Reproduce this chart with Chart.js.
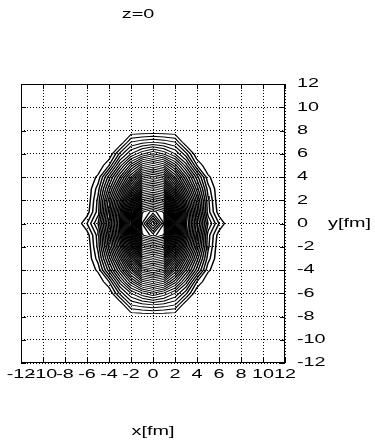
<!DOCTYPE html>
<html>
<head>
<meta charset="utf-8">
<title>z=0</title>
<script src="https://cdn.jsdelivr.net/npm/chart.js@4.4.1/dist/chart.umd.min.js"></script>
<style>
  html, body { margin: 0; padding: 0; background: #fff; }
  canvas { display: block; }
</style>
</head>
<body>
<canvas id="contour" width="375" height="445"></canvas>
<script>
// Density slice at z=0, one quadrant (x >= 0, y >= 0) on a 1 fm grid.
// The other three quadrants are mirror images.
const gridX = [0, 1, 2, 3, 4, 5, 6, 7];        // fm
const gridY = [0, 1, 2, 3, 4, 5, 6, 7, 8, 9];  // fm
const quadrant = [
  [46, 41, 29, 18.5, 11.5, 5, 2, 0],        // y = 0
  [41.5, 39.8, 28, 18, 10.5, 3.5, 0.4, 0],  // y = 1
  [34.5, 33.3, 24, 16, 9.5, 3.3, 0, 0],     // y = 2
  [28, 26.8, 19.5, 13, 7.5, 2.5, 0, 0],     // y = 3
  [21.5, 20.3, 15, 10, 5.5, 1.25, 0, 0],    // y = 4
  [15, 13.8, 10.5, 6.5, 2, 0, 0, 0],        // y = 5
  [9, 7.8, 6, 3.3, 0, 0, 0, 0],             // y = 6
  [4, 3.6, 3, 0, 0, 0, 0, 0],               // y = 7
  [0, 0, 0, 0, 0, 0, 0, 0],                 // y = 8
  [0, 0, 0, 0, 0, 0, 0, 0]                  // y = 9
];
const contourLevels = [1, 2, 3, 4, 5, 6, 7, 8, 9, 10, 11, 12, 13, 14, 15, 16,
  17, 18, 19, 20, 21, 22, 23, 24, 25, 26, 27, 28, 29, 30, 31, 32, 33, 34, 35,
  36, 37, 38, 39, 40, 41, 42, 43, 44, 45];
const axisTicks = [-12, -10, -8, -6, -4, -2, 0, 2, 4, 6, 8, 10, 12];

const titleText = 'z=0';
const xTitle = 'x[fm]';
const yTitle = 'y[fm]';

const FONT = '12px "Liberation Sans", Arial, sans-serif';
const TEXT_STRETCH = 1.65; // labels are drawn wide
const PEN_STRETCH = 1.65;  // contour pen is wider across than tall

// Full grid from the quadrant by mirroring
const xs = gridX.slice(1).reverse().map(v => -v).concat(gridX);
const ys = gridY.slice(1).reverse().map(v => -v).concat(gridY);
function valueAt(i, j) {
  const qi = gridX.indexOf(Math.abs(xs[i]));
  const qj = gridY.indexOf(Math.abs(ys[j]));
  return quadrant[qj][qi];
}
const field = ys.map((_, j) => xs.map((_, i) => valueAt(i, j)));

// Marching squares: segments keyed by the grid edges they end on
function contourSegments(level) {
  const segs = [];
  const edgePoint = (key) => {
    const [t, i, j] = key.split(',');
    const a = +i, b = +j;
    if (t === 'h') {
      const v0 = field[b][a], v1 = field[b][a + 1];
      const f = (level - v0) / (v1 - v0);
      return { x: xs[a] + f * (xs[a + 1] - xs[a]), y: ys[b] };
    }
    const v0 = field[b][a], v1 = field[b + 1][a];
    const f = (level - v0) / (v1 - v0);
    return { x: xs[a], y: ys[b] + f * (ys[b + 1] - ys[b]) };
  };
  for (let j = 0; j < ys.length - 1; j++) {
    for (let i = 0; i < xs.length - 1; i++) {
      const v00 = field[j][i], v10 = field[j][i + 1];
      const v11 = field[j + 1][i + 1], v01 = field[j + 1][i];
      const b0 = v00 > level, b1 = v10 > level, b2 = v11 > level, b3 = v01 > level;
      const bottom = 'h,' + i + ',' + j;
      const top = 'h,' + i + ',' + (j + 1);
      const left = 'v,' + i + ',' + j;
      const right = 'v,' + (i + 1) + ',' + j;
      const crossed = [];
      if (b0 !== b1) crossed.push(bottom);
      if (b1 !== b2) crossed.push(right);
      if (b2 !== b3) crossed.push(top);
      if (b3 !== b0) crossed.push(left);
      if (crossed.length === 2) {
        segs.push([crossed[0], crossed[1]]);
      } else if (crossed.length === 4) {
        const centreHigh = (v00 + v10 + v11 + v01) / 4 > level;
        if ((b0 && b2) === centreHigh) {
          segs.push([bottom, right], [top, left]);
        } else {
          segs.push([bottom, left], [right, top]);
        }
      }
    }
  }
  return { segs, edgePoint };
}

// Join segments into polylines, gaps between polylines as null points
function contourLine(level) {
  const { segs, edgePoint } = contourSegments(level);
  const byEdge = {};
  segs.forEach((s, k) => s.forEach(e => (byEdge[e] = byEdge[e] || []).push(k)));
  const used = new Array(segs.length).fill(false);
  const out = [];
  const walk = (startSeg, fromEdge) => {
    const path = [];
    let seg = startSeg, edge = fromEdge;
    while (seg !== undefined && !used[seg]) {
      used[seg] = true;
      const next = segs[seg][0] === edge ? segs[seg][1] : segs[seg][0];
      path.push(next);
      edge = next;
      seg = byEdge[edge].find(k => !used[k]);
    }
    return path;
  };
  for (let k = 0; k < segs.length; k++) {
    if (used[k]) continue;
    const [a, b] = segs[k];
    used[k] = true;
    const fwd = walk(byEdge[b].find(n => !used[n]), b);
    const back = walk(byEdge[a].find(n => !used[n]), a);
    const chain = back.reverse().concat([a, b], fwd);
    chain.forEach(e => out.push(edgePoint(e)));
    out.push({ x: 0, y: null });
  }
  return out;
}

const datasets = contourLevels.map(level => ({
  label: String(level),
  data: contourLine(level),
  showLine: true,
  borderColor: '#000',
  borderWidth: 0.9,
  pointRadius: 0,
  fill: false,
  tension: 0
}));

const canvas = document.getElementById('contour');
const ctx = canvas.getContext('2d');

// draw all text horizontally stretched around its anchor
const plainFillText = ctx.fillText;
ctx.fillText = function (text, x, y, maxWidth) {
  this.save();
  this.translate(x, y);
  this.scale(TEXT_STRETCH, 1);
  if (maxWidth === undefined) plainFillText.call(this, text, 0, 0);
  else plainFillText.call(this, text, 0, 0, maxWidth / TEXT_STRETCH);
  this.restore();
};

// while the contours are drawn, stroke with a pen that is wider than tall
let widePen = false;
const plainStroke = ctx.stroke;
ctx.stroke = function (path) {
  if (!widePen) return path ? plainStroke.call(this, path) : plainStroke.call(this);
  this.save();
  this.scale(PEN_STRETCH, 1);
  if (path) {
    const p = new Path2D();
    p.addPath(path, new DOMMatrix([1 / PEN_STRETCH, 0, 0, 1, 0, 0]));
    plainStroke.call(this, p);
  } else {
    plainStroke.call(this);
  }
  this.restore();
};

const penPlugin = {
  id: 'widePen',
  beforeDatasetsDraw() { widePen = true; },
  afterDatasetsDraw() { widePen = false; }
};

// Frame with inward ticks on all four sides, plus the text labels
const framePlugin = {
  id: 'frame',
  afterDraw(chart) {
    const { ctx, chartArea: a, scales } = chart;
    ctx.save();
    ctx.strokeStyle = '#000';
    ctx.lineWidth = 1;
    ctx.setLineDash([]);
    ctx.strokeRect(a.left + 0.5, a.top + 0.5, a.right - a.left - 1, a.bottom - a.top - 1);
    const len = 5;
    ctx.beginPath();
    axisTicks.forEach(v => {
      const px = Math.round(scales.x.getPixelForValue(v)) + 0.5;
      ctx.moveTo(px, a.top); ctx.lineTo(px, a.top + len);
      ctx.moveTo(px, a.bottom); ctx.lineTo(px, a.bottom - len);
      const py = Math.round(scales.y.getPixelForValue(v)) + 0.5;
      ctx.moveTo(a.left, py); ctx.lineTo(a.left + len, py);
      ctx.moveTo(a.right, py); ctx.lineTo(a.right - len, py);
    });
    ctx.stroke();

    ctx.fillStyle = '#000';
    ctx.font = FONT;
    ctx.textBaseline = 'middle';
    ctx.textAlign = 'center';
    ctx.fillText(titleText, 138, 15);
    ctx.fillText(xTitle, scales.x.getPixelForValue(0), 432);
    ctx.textAlign = 'left';
    ctx.fillText(yTitle, 328, scales.y.getPixelForValue(0));
    ctx.restore();
  }
};

const tickFont = { family: '"Liberation Sans", Arial, sans-serif', size: 12 };

new Chart(ctx, {
  type: 'scatter',
  data: { datasets },
  options: {
    responsive: false,
    animation: false,
    events: [],
    layout: { padding: { left: 21, top: 84, right: 0, bottom: 0 } },
    plugins: {
      legend: { display: false },
      tooltip: { enabled: false },
      title: { display: false }
    },
    scales: {
      x: {
        type: 'linear',
        position: 'bottom',
        min: -12,
        max: 12,
        afterBuildTicks(scale) { scale.ticks = axisTicks.map(v => ({ value: v })); },
        afterFit(scale) { scale.height = 82; },
        ticks: { autoSkip: false, maxRotation: 0, color: '#000', font: tickFont, padding: 4 },
        grid: { color: '#000', lineWidth: 1, drawTicks: false },
        border: { display: false, dash: [1, 2] }
      },
      y: {
        type: 'linear',
        position: 'right',
        min: -12,
        max: 12,
        afterBuildTicks(scale) { scale.ticks = axisTicks.map(v => ({ value: v })); },
        afterFit(scale) { scale.width = 90; },
        ticks: { autoSkip: false, color: '#000', font: tickFont, padding: 12 },
        grid: { color: '#000', lineWidth: 1, drawTicks: false },
        border: { display: false, dash: [1, 2] }
      }
    }
  },
  plugins: [penPlugin, framePlugin]
});
</script>
</body>
</html>
